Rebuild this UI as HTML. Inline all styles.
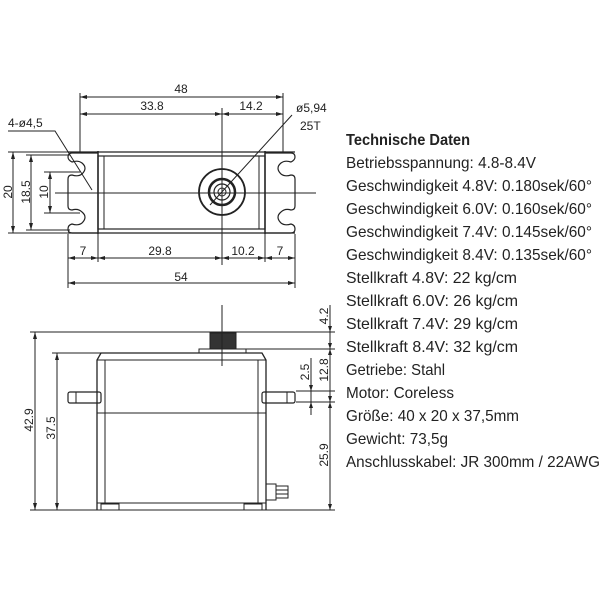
<!DOCTYPE html>
<html><head><meta charset="utf-8"><style>
html,body{margin:0;padding:0;background:#fff;}
svg{display:block;}
text{font-family:"Liberation Sans",sans-serif;fill:#222;}
.t{font-size:16px;}
.d{font-size:12px;}
</style></head><body>
<svg width="600" height="600" viewBox="0 0 600 600" xmlns="http://www.w3.org/2000/svg">
<g stroke="#222" stroke-width="1" fill="none">
<!-- TOP VIEW -->
<!-- ext lines -->
<line x1="80" y1="93" x2="80" y2="152"/>
<line x1="283" y1="93" x2="283" y2="152"/>
<line x1="222" y1="108" x2="222" y2="265"/>
<!-- 48 -->
<line x1="80" y1="97" x2="283" y2="97"/>
<!-- 33.8 / 14.2 -->
<line x1="80" y1="114" x2="283" y2="114"/>
<!-- body -->
<path d="M68 152 H295 M68 233 H295" stroke-width="1.3"/>
<rect x="98" y="156" width="167" height="73" stroke-width="1.2"/>
<line x1="98" y1="151" x2="98" y2="234" stroke-width="1.5"/>
<line x1="265" y1="151" x2="265" y2="234" stroke-width="1.5"/>
<line x1="104" y1="156" x2="104" y2="229"/>
<line x1="259" y1="156" x2="259" y2="229"/>
<!-- left flange with slots -->
<path d="M98 153 H72 Q68 153 68 157 Q68 160 72 162 Q78 160 82 163 Q88 168 82 174 Q78 177 72 175 Q68 175 68 179 V206 Q68 210 72 210 Q78 208 82 212 Q88 217 82 223 Q78 226 72 224 Q68 225 68 229 Q68 233 72 233 H98" stroke-width="1.2"/>
<path d="M265 153 H291 Q295 153 295 157 Q295 160 291 162 Q285 160 281 163 Q275 168 281 174 Q285 177 291 175 Q295 175 295 179 V206 Q295 210 291 210 Q285 208 281 212 Q275 217 281 223 Q285 226 291 224 Q295 225 295 229 Q295 233 291 233 H265" stroke-width="1.2"/>
<!-- horn -->
<circle cx="222" cy="192" r="23" stroke-width="1.8"/>
<circle cx="222" cy="192" r="13" stroke-width="2.5"/>
<circle cx="222" cy="192" r="8" stroke-width="1.2"/>
<circle cx="222" cy="192" r="4"/>
<!-- centerline -->
<line x1="55" y1="193" x2="316" y2="193"/>
<!-- left dims -->
<line x1="8" y1="152" x2="68" y2="152"/>
<line x1="8" y1="233" x2="68" y2="233"/>
<line x1="13" y1="152" x2="13" y2="233"/>
<line x1="26" y1="155" x2="70" y2="155"/>
<line x1="26" y1="230" x2="70" y2="230"/>
<line x1="31" y1="155" x2="31" y2="230"/>
<line x1="44" y1="172" x2="80" y2="172"/>
<line x1="44" y1="213" x2="80" y2="213"/>
<line x1="50" y1="172" x2="50" y2="213"/>
<!-- leaders -->
<path d="M8 131 H55 L92 190"/>
<path d="M292 115 L210 205"/>
<!-- bottom dims -->
<line x1="68" y1="234" x2="68" y2="288"/>
<line x1="295" y1="234" x2="295" y2="288"/>
<line x1="98" y1="234" x2="98" y2="262"/>
<line x1="265" y1="234" x2="265" y2="262"/>
<line x1="68" y1="258" x2="295" y2="258"/>
<line x1="68" y1="283" x2="295" y2="283"/>

<!-- SIDE VIEW -->
<line x1="30" y1="332" x2="335" y2="332"/>
<line x1="52" y1="353" x2="246" y2="353"/>
<line x1="246" y1="349" x2="335" y2="349"/>
<line x1="30" y1="510" x2="335" y2="510"/>
<rect x="210" y="333" width="26" height="16" fill="#333"/>
<rect x="199" y="349" width="47" height="4"/>
<line x1="222" y1="305" x2="222" y2="366"/>
<path d="M97 510 V360 L101 353 H262 L266 360 V510" stroke-width="1.3"/>
<line x1="97" y1="360" x2="266" y2="360"/>
<line x1="105" y1="360" x2="105" y2="503"/>
<line x1="258" y1="360" x2="258" y2="503"/>
<line x1="97" y1="413" x2="266" y2="413"/>
<line x1="97" y1="503" x2="266" y2="503"/>
<rect x="101" y="504" width="18" height="6"/>
<rect x="244" y="504" width="18" height="6"/>
<rect x="68" y="392" width="33" height="11" rx="2" stroke-width="1.2"/>
<line x1="76" y1="392" x2="76" y2="403"/>
<rect x="262" y="392" width="33" height="11" rx="2" stroke-width="1.2"/>
<line x1="287" y1="392" x2="287" y2="403"/>
<rect x="266" y="484" width="10" height="16"/>
<rect x="276" y="486" width="12" height="12"/>
<line x1="276" y1="490" x2="288" y2="490"/>
<line x1="276" y1="494" x2="288" y2="494"/>
<!-- side dims -->
<line x1="35" y1="332" x2="35" y2="510"/>
<line x1="57" y1="353" x2="57" y2="510"/>
<line x1="330" y1="305" x2="330" y2="510"/>
<line x1="296" y1="391" x2="335" y2="391"/>
<line x1="296" y1="402" x2="335" y2="402"/>
<line x1="311" y1="358" x2="311" y2="415"/>
</g>
<!-- arrows (small ticks) -->
<g fill="#222">
<path d="M80 97 l7 -2 v4z M283 97 l-7 -2 v4z"/>
<path d="M80 114 l7 -2 v4z M222 114 l-7 -2 v4z M222 114 l7 -2 v4z M283 114 l-7 -2 v4z"/>
<path d="M68 258 l7 -2 v4z M98 258 l-7 -2 v4z M98 258 l7 -2 v4z M222 258 l-7 -2 v4z M222 258 l7 -2 v4z M265 258 l-7 -2 v4z M265 258 l7 -2 v4z M295 258 l-7 -2 v4z"/>
<path d="M68 283 l7 -2 v4z M295 283 l-7 -2 v4z"/>
<path d="M13 152 l-2 7 h4z M13 233 l-2 -7 h4z M31 155 l-2 7 h4z M31 230 l-2 -7 h4z M50 172 l-2 7 h4z M50 213 l-2 -7 h4z"/>
<path d="M35 332 l-2 7 h4z M35 510 l-2 -7 h4z M57 353 l-2 7 h4z M57 510 l-2 -7 h4z"/>
<path d="M330 332 l-2 -6 h4z M330 349 l-2 6 h4z M330 349 l-2 -6 h4z M330 402 l-2 6 h4z M330 402 l-2 -6 h4z M330 510 l-2 -6 h4z M311 391 l-2 -6 h4z M311 402 l-2 6 h4z"/>
</g>
<!-- dimension text -->
<g class="d">
<text x="181" y="93" text-anchor="middle">48</text>
<text x="152" y="110" text-anchor="middle">33.8</text>
<text x="251" y="110" text-anchor="middle">14.2</text>
<text x="8" y="127" font-size="12">4-ø4,5</text>
<text x="296" y="112">ø5,94</text>
<text x="300" y="130">25T</text>
<text x="83" y="255" text-anchor="middle">7</text>
<text x="160" y="255" text-anchor="middle">29.8</text>
<text x="243" y="255" text-anchor="middle">10.2</text>
<text x="280" y="255" text-anchor="middle">7</text>
<text x="181" y="281" text-anchor="middle">54</text>
<text transform="translate(12,192) rotate(-90)" text-anchor="middle">20</text>
<text transform="translate(30,192) rotate(-90)" text-anchor="middle">18.5</text>
<text transform="translate(48,192) rotate(-90)" text-anchor="middle">10</text>
<text transform="translate(33,420) rotate(-90)" text-anchor="middle">42.9</text>
<text transform="translate(55,428) rotate(-90)" text-anchor="middle">37.5</text>
<text transform="translate(328,316) rotate(-90)" text-anchor="middle">4.2</text>
<text transform="translate(328,370) rotate(-90)" text-anchor="middle">12.8</text>
<text transform="translate(328,455) rotate(-90)" text-anchor="middle">25.9</text>
<text transform="translate(309,372) rotate(-90)" text-anchor="middle">2.5</text>
</g>
<!-- spec text -->
<g class="t">
<text x="346" y="145" font-weight="bold" textLength="124" lengthAdjust="spacingAndGlyphs">Technische Daten</text>
<text x="346" y="168" textLength="190" lengthAdjust="spacingAndGlyphs">Betriebsspannung: 4.8-8.4V</text>
<text x="346" y="191" textLength="246" lengthAdjust="spacingAndGlyphs">Geschwindigkeit 4.8V: 0.180sek/60°</text>
<text x="346" y="214" textLength="246" lengthAdjust="spacingAndGlyphs">Geschwindigkeit 6.0V: 0.160sek/60°</text>
<text x="346" y="237" textLength="246" lengthAdjust="spacingAndGlyphs">Geschwindigkeit 7.4V: 0.145sek/60°</text>
<text x="346" y="260" textLength="246" lengthAdjust="spacingAndGlyphs">Geschwindigkeit 8.4V: 0.135sek/60°</text>
<text x="346" y="283" textLength="171" lengthAdjust="spacingAndGlyphs">Stellkraft 4.8V:  22 kg/cm</text>
<text x="346" y="306" textLength="172" lengthAdjust="spacingAndGlyphs">Stellkraft 6.0V:  26 kg/cm</text>
<text x="346" y="329" textLength="172" lengthAdjust="spacingAndGlyphs">Stellkraft 7.4V:  29 kg/cm</text>
<text x="346" y="352" textLength="172" lengthAdjust="spacingAndGlyphs">Stellkraft 8.4V:  32 kg/cm</text>
<text x="346" y="375" textLength="99" lengthAdjust="spacingAndGlyphs">Getriebe: Stahl</text>
<text x="346" y="398" textLength="108" lengthAdjust="spacingAndGlyphs">Motor: Coreless</text>
<text x="346" y="421" textLength="173" lengthAdjust="spacingAndGlyphs">Größe: 40 x 20 x 37,5mm</text>
<text x="346" y="444" textLength="102" lengthAdjust="spacingAndGlyphs">Gewicht: 73,5g</text>
<text x="346" y="467" textLength="254" lengthAdjust="spacingAndGlyphs">Anschlusskabel: JR 300mm / 22AWG</text>
</g>
</svg>
</body></html>
